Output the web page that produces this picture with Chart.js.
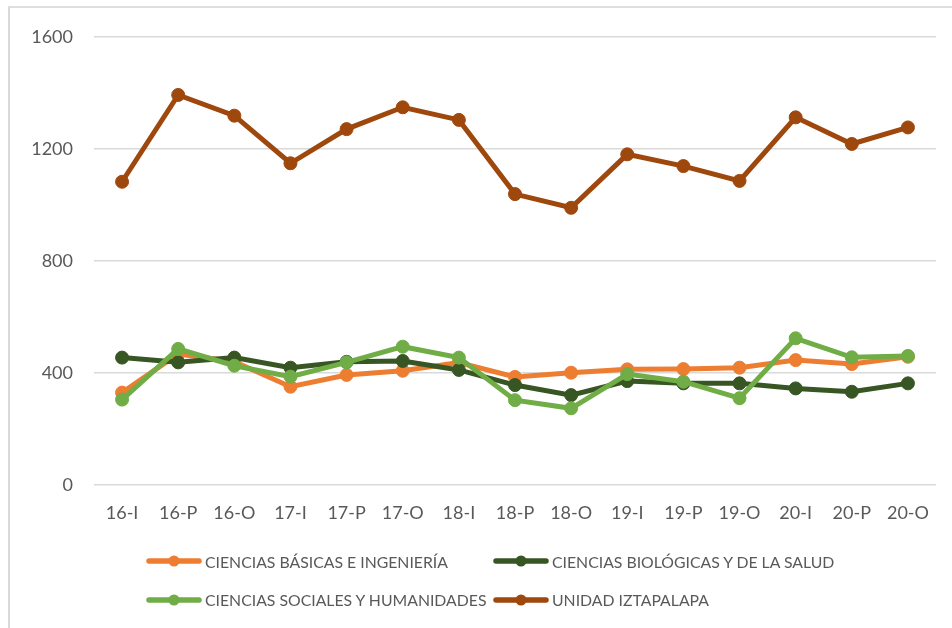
<!DOCTYPE html>
<html lang="es">
<head>
<meta charset="utf-8">
<title>Matrícula por división — Unidad Iztapalapa</title>
<script src="https://cdn.jsdelivr.net/npm/chart.js@4.4.1/dist/chart.umd.min.js"></script>
<style>
  html, body { margin: 0; padding: 0; background: #ffffff; }
  #wrap { position: relative; width: 952px; height: 628px; overflow: hidden; }
  #frame {
    position: absolute; left: 8px; top: 6px; width: 1000px; height: 700px;
    border-left: 2px solid #d9d9d9; border-top: 2px solid #dedede;
  }
  #chart { position: absolute; left: 0; top: 0; }
  #legend {
    position: absolute; left: 146px; top: 542px;
    display: grid; grid-template-columns: 347px 300px; grid-auto-rows: 38.5px;
    font-family: Lato, "Open Sans", sans-serif; font-size: 15.8px; color: #595959;
  }
  .item { display: flex; align-items: center; white-space: nowrap; }
  .item canvas { margin-right: 3px; }
</style>
</head>
<body>
<div id="wrap">
  <div id="frame"></div>
  <canvas id="chart" width="952" height="628"></canvas>
  <div id="legend"></div>
</div>
<script>
// Periods (year-trimester: I = invierno, P = primavera, O = otoño)
const periods = ['16-I','16-P','16-O','17-I','17-P','17-O','18-I','18-P','18-O','19-I','19-P','19-O','20-I','20-P','20-O'];

const seriesNames = [
  'CIENCIAS BÁSICAS E INGENIERÍA',
  'CIENCIAS BIOLÓGICAS Y DE LA SALUD',
  'CIENCIAS SOCIALES Y HUMANIDADES',
  'UNIDAD IZTAPALAPA'
];

const basicas    = [330, 468, 440, 351, 393, 408, 437, 386, 401, 413, 414, 419, 446, 432, 458];
const biologicas = [455, 438, 455, 419, 440, 443, 411, 357, 321, 371, 363, 363, 345, 333, 363];
const sociales   = [305, 486, 426, 387, 438, 494, 455, 303, 274, 396, 369, 310, 524, 456, 461];
const iztapalapa = [1083, 1393, 1319, 1149, 1271, 1349, 1304, 1039, 990, 1181, 1139, 1086, 1313, 1218, 1277];

const yTicks = [0, 400, 800, 1200, 1600];

const colors = ['#ED7D31', '#375623', '#70AD47', '#9E480E'];
const values = [basicas, biologicas, sociales, iztapalapa];

const datasets = values.map((data, i) => ({
  label: seriesNames[i],
  data: data,
  borderColor: colors[i],
  backgroundColor: colors[i],
  borderWidth: 5,
  pointRadius: 6.5,
  pointBorderWidth: 1,
  pointBackgroundColor: colors[i],
  pointBorderColor: colors[i],
  tension: 0,
  // later series are painted over earlier ones
  order: values.length - i
}));

const chart = new Chart(document.getElementById('chart'), {
  type: 'line',
  data: { labels: periods, datasets: datasets },
  options: {
    responsive: false,
    animation: false,
    devicePixelRatio: 1,
    layout: { padding: { left: 10, right: 16, top: 37, bottom: 83 } },
    plugins: { legend: { display: false }, tooltip: { enabled: false } },
    scales: {
      x: {
        offset: true,
        grid: { display: false },
        border: { display: false },
        ticks: {
          padding: 9,
          color: '#595959',
          font: { family: 'Lato', size: 18 },
          maxRotation: 0, autoSkip: false
        },
        afterFit(scale) { scale.height = 60; }
      },
      y: {
        min: yTicks[0],
        max: yTicks[yTicks.length - 1],
        afterBuildTicks(scale) { scale.ticks = yTicks.map(v => ({ value: v })); },
        grid: { color: '#d9d9d9', lineWidth: 1.5, drawTicks: false },
        border: { display: false },
        ticks: {
          padding: 21,
          color: '#595959',
          font: { family: 'Lato', size: 18 },
          callback: v => String(v)
        },
        afterFit(scale) { scale.width = 84; }
      }
    }
  }
});

// Legend built from the chart's own datasets
const legend = document.getElementById('legend');
chart.data.datasets.forEach(ds => {
  const item = document.createElement('div');
  item.className = 'item';
  const sw = document.createElement('canvas');
  sw.width = 56; sw.height = 14;
  const c = sw.getContext('2d');
  c.strokeStyle = ds.borderColor; c.lineWidth = 5.5; c.lineCap = 'round';
  c.beginPath(); c.moveTo(3, 7); c.lineTo(53, 7); c.stroke();
  c.fillStyle = ds.borderColor;
  c.beginPath(); c.arc(28, 7, 5.5, 0, Math.PI * 2); c.fill();
  const txt = document.createElement('span');
  txt.textContent = ds.label;
  item.appendChild(sw); item.appendChild(txt);
  legend.appendChild(item);
});
</script>
</body>
</html>
